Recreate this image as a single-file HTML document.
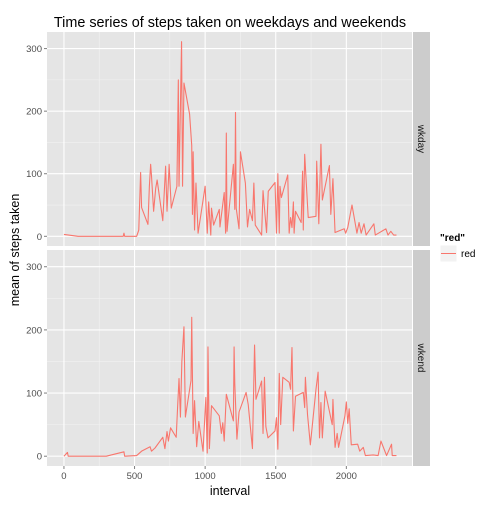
<!DOCTYPE html>
<html><head><meta charset="utf-8"><style>
body{margin:0;background:#fff;}
svg text{font-family:"Liberation Sans",sans-serif;}
</style></head><body>
<svg id="c" width="504" height="504" xmlns="http://www.w3.org/2000/svg">
<text x="230" y="27" font-size="14.4" text-anchor="middle" fill="#000">Time series of steps taken on weekdays and weekends</text>
<text x="230" y="495" font-size="12.5" text-anchor="middle">interval</text>
<text transform="translate(19,250) rotate(-90)" font-size="12.5" text-anchor="middle">mean of steps taken</text>
<g id="plots"></g>
<g>
<text x="440" y="241" font-size="10" font-weight="bold">"red"</text>
<rect x="440" y="245" width="17" height="17" fill="#F2F2F2" stroke="#fff"/>
<line x1="441" y1="253.5" x2="456" y2="253.5" stroke="#F8766D" stroke-width="1"/>
<text x="461" y="257" font-size="10" fill="#000">red</text>
</g>
</svg>
<script>
const xTicks=[0,500,1000,1500,2000];
const xMinor=[250,750,1250,1750,2250];
const yTicks=[0,100,200,300];
const yMinor=[50,150,250];
const panelNames=["wkday","wkend"];
const wkdayIntervals=[0,100,420,425,430,515,530,543,550,595,605,614,620,635,650,660,700,720,730,745,760,800,810,815,833,840,850,890,905,910,915,925,935,950,1000,1015,1025,1040,1045,1060,1100,1105,1135,1145,1150,1155,1200,1210,1215,1220,1240,1250,1285,1300,1315,1335,1345,1355,1400,1410,1422,1435,1447,1495,1505,1515,1525,1530,1540,1585,1595,1605,1615,1625,1630,1640,1680,1690,1695,1705,1725,1730,1785,1790,1805,1820,1830,1880,1890,1905,1920,1985,1995,2010,2040,2075,2090,2105,2125,2140,2195,2205,2280,2295,2315,2335,2355];
const wkdaySteps=[3,0,0,5,0,0,10,102,46,19,80,115,97,40,77,90,25,112,40,115,45,80,250,80,311,80,245,195,145,35,135,10,85,5,80,5,55,2,45,18,43,15,70,5,165,8,115,43,198,45,12,135,85,15,43,25,85,18,2,73,40,6,72,86,5,100,5,80,62,98,5,30,14,55,5,40,22,104,10,131,50,30,32,120,20,147,58,113,35,92,6,12,5,14,50,5,22,5,20,2,20,2,12,2,8,2,2];
const wkendIntervals=[0,25,30,100,300,425,430,515,550,610,620,645,700,715,730,740,755,795,805,815,825,835,850,860,900,905,915,925,940,955,985,1005,1015,1020,1030,1045,1100,1115,1125,1135,1150,1200,1205,1210,1225,1240,1290,1305,1335,1350,1360,1400,1410,1420,1430,1445,1495,1505,1515,1525,1535,1550,1595,1605,1615,1625,1640,1695,1705,1710,1725,1745,1785,1800,1810,1820,1830,1850,1900,1905,1920,1935,1945,1990,2000,2010,2020,2035,2080,2095,2120,2135,2190,2225,2245,2285,2320,2325,2340,2355];
const wkendSteps=[0,6,0,0,0,7,0,1,8,15,8,13,30,12,39,24,45,30,78,123,62,150,205,62,120,220,36,88,15,55,8,93,5,173,12,80,64,36,53,24,98,56,173,115,27,70,101,82,12,176,90,119,36,125,47,29,40,61,11,131,50,125,117,106,172,40,95,101,77,125,66,18,106,133,29,85,29,103,50,90,14,36,14,64,86,52,75,18,19,8,14,1,2,1,24,1,19,1,1,1];

const NS="http://www.w3.org/2000/svg";
const X0=47,X1=412,xMin=-120,xMax=2465;
const yMin=-15.5,yMax=326.5;
const panels=[{top:32,bot:246},{top:250,bot:466}];
const sx=v=>X0+(v-xMin)/(xMax-xMin)*(X1-X0);
function mk(tag,attrs,parent){const e=document.createElementNS(NS,tag);for(const k in attrs)e.setAttribute(k,attrs[k]);parent.appendChild(e);return e;}
const g=document.getElementById('plots');
const series=[[wkdayIntervals,wkdaySteps],[wkendIntervals,wkendSteps]];
panels.forEach((p,pi)=>{
  const sy=v=>p.bot-(v-yMin)/(yMax-yMin)*(p.bot-p.top);
  const bg=mk('rect',{x:X0,y:p.top,width:X1-X0,height:p.bot-p.top,fill:'#E5E5E5'},g);
  
  
  xMinor.forEach(v=>{const l=mk('line',{x1:sx(v),x2:sx(v),y1:p.top,y2:p.bot,stroke:'#F2F2F2','stroke-width':0.6},g);
    });
  yMinor.forEach(v=>{const l=mk('line',{x1:X0,x2:X1,y1:sy(v),y2:sy(v),stroke:'#F2F2F2','stroke-width':0.6},g);
    });
  xTicks.forEach(v=>{const l=mk('line',{x1:sx(v),x2:sx(v),y1:p.top,y2:p.bot,stroke:'#fff','stroke-width':1.1},g);
    });
  yTicks.forEach(v=>{const l=mk('line',{x1:X0,x2:X1,y1:sy(v),y2:sy(v),stroke:'#fff','stroke-width':1.1},g);
    
    const t=mk('text',{x:X0-5,y:sy(v)+3.5,'font-size':9.5,'text-anchor':'end',fill:'#4D4D4D'},g);t.textContent=v;
    
    const tk=mk('line',{x1:X0-3,x2:X0,y1:sy(v),y2:sy(v),stroke:'#7F7F7F'},g);
    });
  const [xs,ys]=series[pi];
  const d=xs.map((x,i)=>(i?'L':'M')+sx(x).toFixed(2)+','+sy(ys[i]).toFixed(2)).join(' ');
  const path=mk('path',{d:d,fill:'none',stroke:'#F8766D','stroke-width':1.1,'stroke-linejoin':'round'},g);
  
  
  const st=mk('rect',{x:413,y:p.top,width:17,height:p.bot-p.top,fill:'#CCCCCC'},g);
  
  
  const c=(p.top+p.bot)/2;
  const tt=mk('text',{transform:`translate(418,${c}) rotate(90)`,'font-size':10,'text-anchor':'middle',fill:'#1A1A1A'},g);
  tt.textContent=panelNames[pi];
  
  
});
xTicks.forEach(v=>{
  const tk=mk('line',{x1:sx(v),x2:sx(v),y1:466,y2:469,stroke:'#7F7F7F'},g);
  
  const t=mk('text',{x:sx(v),y:479,'font-size':9.5,'text-anchor':'middle',fill:'#4D4D4D'},g);t.textContent=v;
  
});
</script>
</body></html>
